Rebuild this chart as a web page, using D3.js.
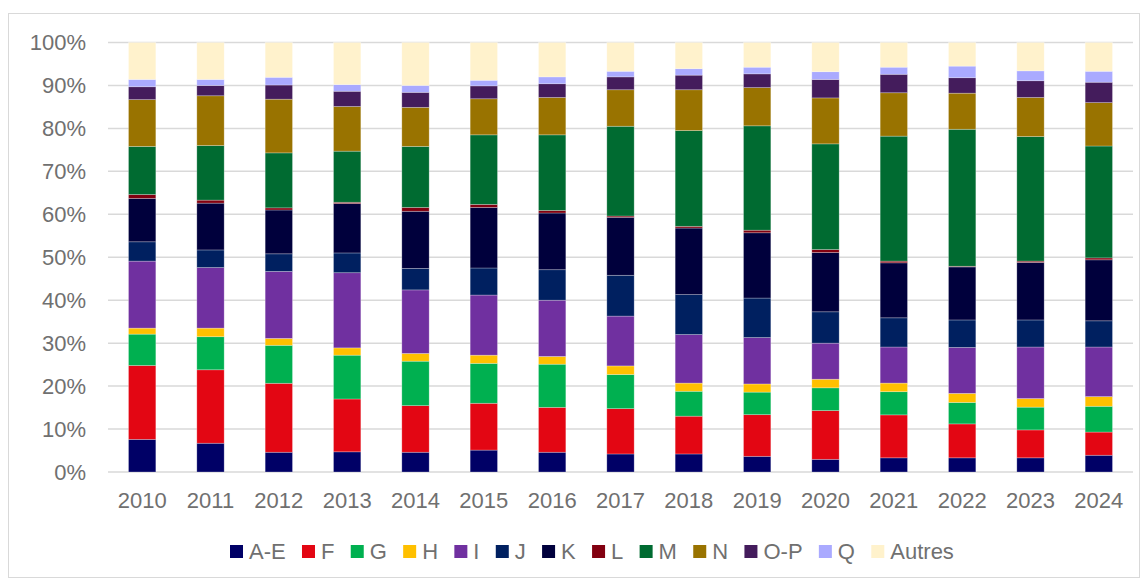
<!DOCTYPE html>
<html lang="fr">
<head>
<meta charset="utf-8">
<title>Répartition par secteur, 2010-2024</title>
<script src="https://cdn.jsdelivr.net/npm/d3@7"></script>
<style>
  html, body { margin: 0; padding: 0; background: #ffffff; }
  svg { display: block; }
  text { font-family: "Liberation Sans", Arial, sans-serif; fill: #707070; }
</style>
</head>
<body>
<svg id="chart" width="1148" height="581"></svg>
<script>
// Years on the horizontal axis
const years = ["2010","2011","2012","2013","2014","2015","2016","2017","2018","2019","2020","2021","2022","2023","2024"];

// Share of each sector per year (%)
const seriesAE     = [7.6, 6.7, 4.6, 4.7, 4.6, 5.1, 4.6, 4.2, 4.2, 3.65, 2.95, 3.3, 3.3, 3.3, 3.9];
const seriesF      = [17.2, 17.1, 16.05, 12.3, 10.85, 10.9, 10.45, 10.55, 8.8, 9.7, 11.35, 10.0, 7.9, 6.5, 5.4];
const seriesG      = [7.3, 7.7, 8.85, 10.2, 10.35, 9.3, 10.05, 7.95, 5.8, 5.25, 5.3, 5.4, 5.0, 5.3, 6.0];
const seriesH      = [1.4, 2.0, 1.6, 1.7, 1.8, 1.9, 1.8, 2.0, 1.9, 1.9, 2.0, 2.0, 2.1, 2.0, 2.25];
const seriesI      = [15.6, 14.1, 15.6, 17.5, 14.8, 14.0, 13.1, 11.6, 11.3, 10.8, 8.4, 8.4, 10.7, 12.0, 11.55];
const seriesJ      = [4.5, 4.1, 4.1, 4.6, 5.0, 6.3, 7.1, 9.5, 9.3, 9.2, 7.3, 6.8, 6.4, 6.3, 6.1];
const seriesK      = [10.1, 10.9, 10.2, 11.5, 13.3, 14.1, 13.2, 13.5, 15.5, 15.2, 13.8, 12.8, 12.35, 13.4, 14.2];
const seriesL      = [0.9, 0.7, 0.5, 0.3, 0.9, 0.7, 0.6, 0.3, 0.4, 0.6, 0.7, 0.4, 0.15, 0.3, 0.45];
const seriesM      = [11.2, 12.7, 12.8, 11.9, 14.2, 16.2, 17.6, 20.9, 22.3, 24.3, 24.6, 29.1, 31.9, 29.0, 26.05];
const seriesN      = [10.9, 11.6, 12.5, 10.4, 9.1, 8.4, 8.7, 8.5, 9.5, 8.9, 10.7, 10.1, 8.4, 9.1, 10.1];
const seriesOP     = [3.0, 2.4, 3.3, 3.55, 3.5, 3.0, 3.2, 3.0, 3.4, 3.2, 4.3, 4.3, 3.6, 3.9, 4.75];
const seriesQ      = [1.7, 1.4, 1.8, 1.55, 1.6, 1.3, 1.6, 1.3, 1.5, 1.55, 1.8, 1.65, 2.7, 2.3, 2.55];
const seriesAutres = [8.6, 8.6, 8.1, 9.8, 10.0, 8.8, 8.0, 6.7, 6.1, 5.75, 6.8, 5.75, 5.5, 6.6, 6.7];

// Series names, in stacking order (bottom to top)
const seriesNames = ["A-E", "F", "G", "H", "I", "J", "K", "L", "M", "N", "O-P", "Q", "Autres"];
const seriesValues = [seriesAE, seriesF, seriesG, seriesH, seriesI, seriesJ, seriesK, seriesL,
                      seriesM, seriesN, seriesOP, seriesQ, seriesAutres];
const seriesColors = ["#000066", "#e30613", "#00b050", "#ffc000", "#7030a0", "#002060", "#00003c",
                      "#820010", "#006b31", "#997300", "#441c5c", "#aaaaff", "#fff2cc"];

// Y-axis ticks
const yTicks = [0, 10, 20, 30, 40, 50, 60, 70, 80, 90, 100];

// One row per year for the stack layout
const rows = years.map((yr, idx) => {
  const row = { year: yr };
  seriesNames.forEach((name, s) => { row[name] = seriesValues[s][idx]; });
  return row;
});

const svg = d3.select("#chart");

// Outer chart frame
svg.append("rect")
  .attr("x", 8.5).attr("y", 13.5)
  .attr("width", 1131).attr("height", 564)
  .attr("fill", "none").attr("stroke", "#d9d9d9").attr("stroke-width", 1);

const x = d3.scaleBand()
  .domain(years)
  .range([108, 1133])
  .paddingInner(0.6)
  .paddingOuter(0.3);

const y = d3.scaleLinear().domain([0, 100]).range([472, 42.5]);

// Horizontal gridlines
svg.append("g")
  .selectAll("line")
  .data(yTicks)
  .join("line")
  .attr("x1", 108).attr("x2", 1133)
  .attr("y1", d => y(d)).attr("y2", d => y(d))
  .attr("stroke", "#d9d9d9").attr("stroke-width", 1.5);

// Y-axis labels
const yAxis = d3.axisLeft(y).tickValues(yTicks).tickFormat(d => d + "%").tickSize(0).tickPadding(0);
const yg = svg.append("g").attr("transform", "translate(86,0)").call(yAxis);
yg.select(".domain").remove();
yg.selectAll("text")
  .attr("font-size", 22)
  .attr("fill", "#707070")
  .attr("font-family", "Liberation Sans, Arial, sans-serif");

// Stacked bars
const stack = d3.stack().keys(seriesNames);
const layers = stack(rows);

svg.append("g")
  .selectAll("g")
  .data(layers)
  .join("g")
  .attr("fill", (d, i) => seriesColors[i])
  .selectAll("rect")
  .data(d => d)
  .join("rect")
  .attr("x", d => x(d.data.year))
  .attr("width", x.bandwidth())
  .attr("y", d => y(d[1]))
  .attr("height", d => y(d[0]) - y(d[1]))
  .attr("stroke", "rgba(255,255,255,0.35)")
  .attr("stroke-width", 0.75);

// X-axis labels
const xAxis = d3.axisBottom(x).tickSize(0).tickPadding(0);
const xg = svg.append("g").attr("transform", "translate(0,491)").call(xAxis);
xg.select(".domain").remove();
xg.selectAll("text")
  .attr("font-size", 22)
  .attr("dy", "0.75em")
  .attr("fill", "#707070")
  .attr("font-family", "Liberation Sans, Arial, sans-serif");

// Legend
const legend = svg.append("g").attr("class", "legend");
let lx = 230;
seriesNames.forEach((name, i) => {
  const item = legend.append("g").attr("transform", `translate(${lx},0)`);
  item.append("rect")
    .attr("x", 0).attr("y", 545)
    .attr("width", 13).attr("height", 13)
    .attr("fill", seriesColors[i]);
  const t = item.append("text")
    .attr("x", 19).attr("y", 559)
    .attr("font-size", 22)
    .text(name);
  lx += 19 + t.node().getComputedTextLength() + 16.3;
});
</script>
</body>
</html>
